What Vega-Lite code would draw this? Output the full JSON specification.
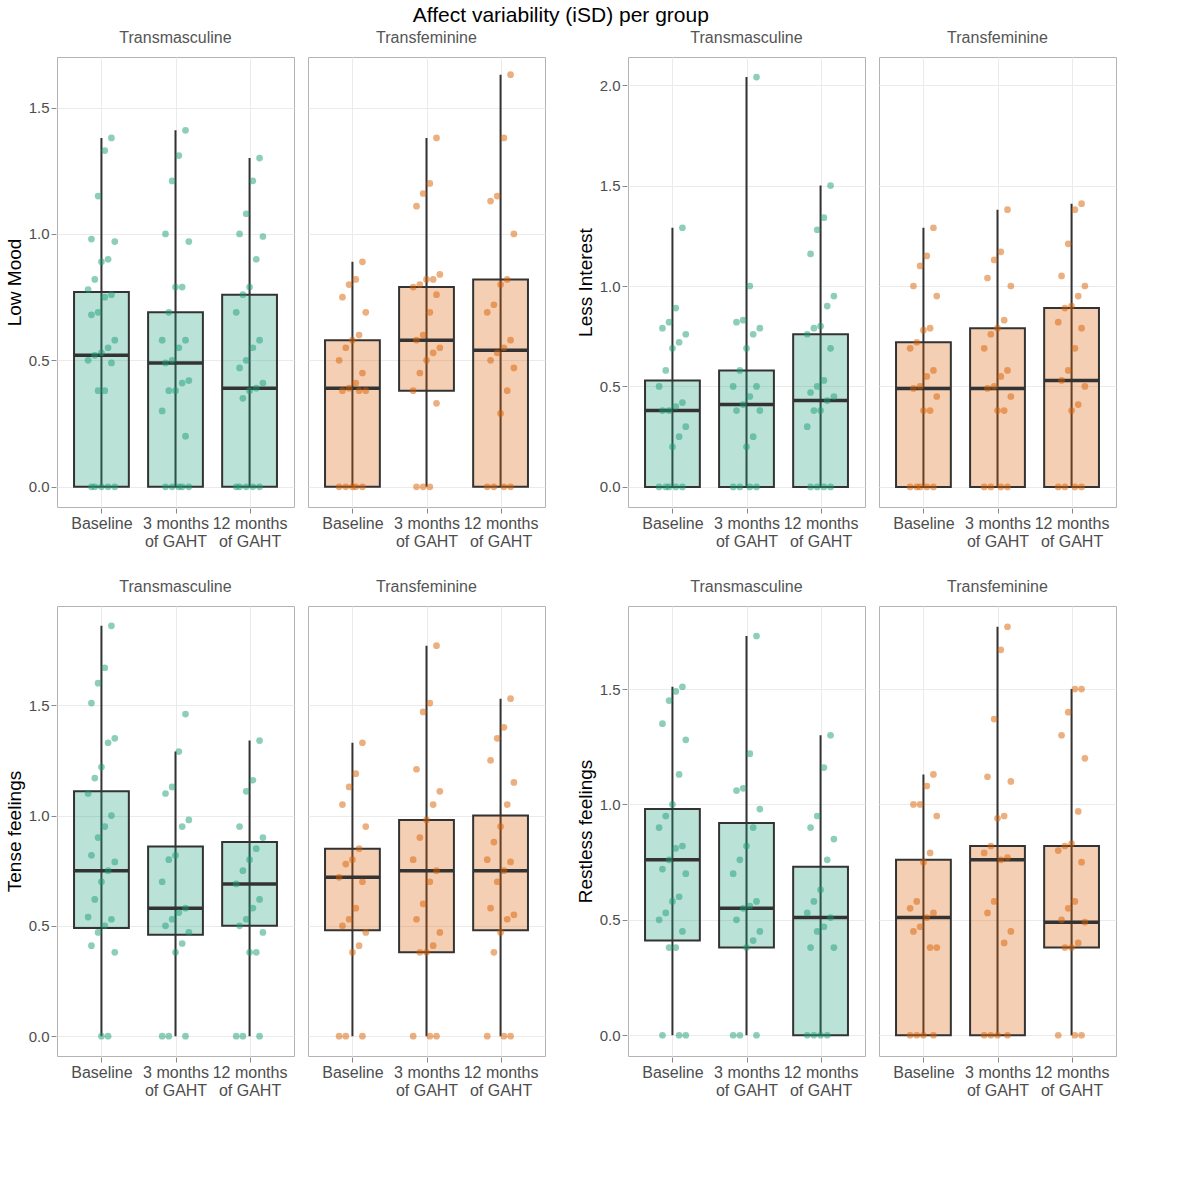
{
  "$schema": "https://vega.github.io/schema/vega-lite/v6.json",
  "title": {"text": "Affect variability (iSD) per group", "fontSize": 21, "fontWeight": "normal", "anchor": "middle", "font": "Liberation Sans"},
  "config": {
    "font": "Liberation Sans",
    "view": {"stroke": "#b3b3b3"},
    "axis": {"gridColor": "#ebebeb", "labelFontSize": 15, "labelColor": "#4d4d4d", "titleFontSize": 19, "titleFontWeight": "normal", "titleColor": "#000", "domain": false, "tickColor": "#888"},
    "header": {"labelFontSize": 16, "labelColor": "#555", "title": null},
    "facet": {"spacing": 12},
    "concat": {"spacing": 30}
  },
  "datasets": {
    "boxes": [
      {"m": "Low Mood", "g": "Transmasculine", "t": "Baseline", "tn": 1, "q1": 0, "med": 0.52, "q3": 0.77, "lo": 0, "hi": 1.38, "vals": [1.38,1.33,1.15,0.98,0.97,0.9,0.89,0.82,0.78,0.76,0.75,0.69,0.68,0.58,0.55,0.53,0.52,0.5,0.49,0.38,0.38,0,0,0,0,0]},
      {"m": "Low Mood", "g": "Transmasculine", "t": "3 months of GAHT", "tn": 2, "q1": 0, "med": 0.49, "q3": 0.69, "lo": 0, "hi": 1.41, "vals": [1.41,1.31,1.21,1.0,0.97,0.79,0.79,0.69,0.58,0.58,0.55,0.5,0.49,0.42,0.41,0.38,0.38,0.3,0.2,0,0,0,0,0]},
      {"m": "Low Mood", "g": "Transmasculine", "t": "12 months of GAHT", "tn": 3, "q1": 0, "med": 0.39, "q3": 0.76, "lo": 0, "hi": 1.3, "vals": [1.3,1.21,1.08,1.0,0.99,0.9,0.79,0.76,0.69,0.58,0.55,0.5,0.47,0.41,0.39,0.38,0.35,0,0,0,0,0]},
      {"m": "Low Mood", "g": "Transfeminine", "t": "Baseline", "tn": 1, "q1": 0, "med": 0.39, "q3": 0.58, "lo": 0, "hi": 0.89, "vals": [0.89,0.82,0.8,0.75,0.69,0.6,0.58,0.55,0.5,0.45,0.41,0.39,0.38,0.38,0.38,0,0,0,0,0]},
      {"m": "Low Mood", "g": "Transfeminine", "t": "3 months of GAHT", "tn": 2, "q1": 0.38, "med": 0.58, "q3": 0.79, "lo": 0, "hi": 1.38, "vals": [1.38,1.2,1.16,1.11,0.84,0.82,0.82,0.8,0.79,0.76,0.69,0.6,0.58,0.55,0.53,0.5,0.45,0.38,0.33,0,0,0]},
      {"m": "Low Mood", "g": "Transfeminine", "t": "12 months of GAHT", "tn": 3, "q1": 0, "med": 0.54, "q3": 0.82, "lo": 0, "hi": 1.63, "vals": [1.63,1.38,1.15,1.13,1.0,0.82,0.8,0.72,0.69,0.58,0.55,0.53,0.5,0.47,0.38,0.29,0,0,0,0]},
      {"m": "Less Interest", "g": "Transmasculine", "t": "Baseline", "tn": 1, "q1": 0, "med": 0.38, "q3": 0.53, "lo": 0, "hi": 1.29, "vals": [1.29,0.89,0.82,0.79,0.76,0.72,0.69,0.58,0.5,0.42,0.4,0.38,0.38,0.3,0.25,0.2,0,0,0,0,0]},
      {"m": "Less Interest", "g": "Transmasculine", "t": "3 months of GAHT", "tn": 2, "q1": 0, "med": 0.41, "q3": 0.58, "lo": 0, "hi": 2.04, "vals": [2.04,1.0,0.83,0.82,0.79,0.76,0.69,0.58,0.5,0.5,0.45,0.41,0.38,0.38,0.25,0.2,0,0,0,0]},
      {"m": "Less Interest", "g": "Transmasculine", "t": "12 months of GAHT", "tn": 3, "q1": 0, "med": 0.43, "q3": 0.76, "lo": 0, "hi": 1.5, "vals": [1.5,1.34,1.28,1.16,0.95,0.9,0.8,0.79,0.76,0.69,0.53,0.5,0.47,0.45,0.43,0.38,0.38,0.3,0,0,0,0]},
      {"m": "Less Interest", "g": "Transfeminine", "t": "Baseline", "tn": 1, "q1": 0, "med": 0.49, "q3": 0.72, "lo": 0, "hi": 1.29, "vals": [1.29,1.15,1.1,1.0,0.95,0.79,0.78,0.72,0.69,0.58,0.55,0.5,0.49,0.45,0.38,0.38,0,0,0,0,0]},
      {"m": "Less Interest", "g": "Transfeminine", "t": "3 months of GAHT", "tn": 2, "q1": 0, "med": 0.49, "q3": 0.79, "lo": 0, "hi": 1.38, "vals": [1.38,1.17,1.13,1.04,1.0,0.83,0.79,0.76,0.69,0.58,0.55,0.5,0.49,0.45,0.38,0.38,0,0,0,0]},
      {"m": "Less Interest", "g": "Transfeminine", "t": "12 months of GAHT", "tn": 3, "q1": 0, "med": 0.53, "q3": 0.89, "lo": 0, "hi": 1.41, "vals": [1.41,1.38,1.21,1.05,1.0,0.95,0.9,0.89,0.82,0.79,0.69,0.58,0.53,0.5,0.41,0.38,0,0,0,0]},
      {"m": "Tense feelings", "g": "Transmasculine", "t": "Baseline", "tn": 1, "q1": 0.49, "med": 0.75, "q3": 1.11, "lo": 0, "hi": 1.86, "vals": [1.86,1.67,1.6,1.51,1.35,1.33,1.22,1.17,1.1,1.0,0.95,0.9,0.82,0.79,0.75,0.7,0.62,0.54,0.53,0.5,0.47,0.41,0.38,0,0]},
      {"m": "Tense feelings", "g": "Transmasculine", "t": "3 months of GAHT", "tn": 2, "q1": 0.46, "med": 0.58, "q3": 0.86, "lo": 0, "hi": 1.29, "vals": [1.46,1.29,1.13,1.1,0.98,0.95,0.82,0.8,0.7,0.58,0.56,0.53,0.5,0.47,0.42,0.38,0,0,0]},
      {"m": "Tense feelings", "g": "Transmasculine", "t": "12 months of GAHT", "tn": 3, "q1": 0.5, "med": 0.69, "q3": 0.88, "lo": 0, "hi": 1.34, "vals": [1.34,1.16,1.11,0.95,0.9,0.85,0.8,0.75,0.69,0.62,0.58,0.53,0.5,0.47,0.38,0.38,0,0,0]},
      {"m": "Tense feelings", "g": "Transfeminine", "t": "Baseline", "tn": 1, "q1": 0.48, "med": 0.72, "q3": 0.85, "lo": 0, "hi": 1.33, "vals": [1.33,1.19,1.13,1.05,0.95,0.85,0.8,0.78,0.72,0.7,0.58,0.53,0.5,0.47,0.41,0.38,0,0,0]},
      {"m": "Tense feelings", "g": "Transfeminine", "t": "3 months of GAHT", "tn": 2, "q1": 0.38, "med": 0.75, "q3": 0.98, "lo": 0, "hi": 1.77, "vals": [1.77,1.51,1.47,1.21,1.11,1.05,0.98,0.9,0.8,0.75,0.7,0.6,0.53,0.47,0.41,0.38,0.38,0,0,0]},
      {"m": "Tense feelings", "g": "Transfeminine", "t": "12 months of GAHT", "tn": 3, "q1": 0.48, "med": 0.75, "q3": 1.0, "lo": 0, "hi": 1.53, "vals": [1.53,1.4,1.35,1.25,1.15,1.05,0.95,0.88,0.8,0.79,0.75,0.7,0.58,0.55,0.53,0.47,0.38,0,0,0]},
      {"m": "Restless feelings", "g": "Transmasculine", "t": "Baseline", "tn": 1, "q1": 0.41, "med": 0.76, "q3": 0.98, "lo": 0, "hi": 1.51, "vals": [1.51,1.49,1.45,1.35,1.28,1.13,1.0,0.95,0.9,0.82,0.81,0.76,0.72,0.7,0.6,0.58,0.53,0.5,0.45,0.38,0.38,0,0,0]},
      {"m": "Restless feelings", "g": "Transmasculine", "t": "3 months of GAHT", "tn": 2, "q1": 0.38, "med": 0.55, "q3": 0.92, "lo": 0, "hi": 1.73, "vals": [1.73,1.22,1.07,1.06,0.98,0.9,0.82,0.76,0.7,0.58,0.56,0.55,0.5,0.45,0.41,0.38,0,0,0]},
      {"m": "Restless feelings", "g": "Transmasculine", "t": "12 months of GAHT", "tn": 3, "q1": 0, "med": 0.51, "q3": 0.73, "lo": 0, "hi": 1.3, "vals": [1.3,1.16,0.95,0.9,0.85,0.76,0.63,0.58,0.53,0.51,0.47,0.45,0.38,0.38,0,0,0,0]},
      {"m": "Restless feelings", "g": "Transfeminine", "t": "Baseline", "tn": 1, "q1": 0, "med": 0.51, "q3": 0.76, "lo": 0, "hi": 1.13, "vals": [1.13,1.08,1.0,1.0,0.95,0.79,0.75,0.58,0.55,0.53,0.51,0.47,0.45,0.38,0.38,0,0,0,0]},
      {"m": "Restless feelings", "g": "Transfeminine", "t": "3 months of GAHT", "tn": 2, "q1": 0, "med": 0.76, "q3": 0.82, "lo": 0, "hi": 1.77, "vals": [1.77,1.67,1.37,1.12,1.1,0.95,0.94,0.82,0.79,0.77,0.76,0.58,0.53,0.45,0.4,0,0,0,0]},
      {"m": "Restless feelings", "g": "Transfeminine", "t": "12 months of GAHT", "tn": 3, "q1": 0.38, "med": 0.49, "q3": 0.82, "lo": 0, "hi": 1.5, "vals": [1.5,1.5,1.4,1.3,1.2,0.97,0.83,0.82,0.8,0.75,0.58,0.55,0.5,0.49,0.4,0.38,0.38,0,0,0]}
    ]
  },
  "columns": 2,
  "concat": [
    {
      "data": {"name": "boxes"},
      "transform": [{"filter": "datum.m == 'Low Mood'"}, {"calculate": "datum.tn - 0.37", "as": "xa"}, {"calculate": "datum.tn + 0.37", "as": "xb"}],
      "facet": {"column": {"field": "g", "sort": ["Transmasculine", "Transfeminine"]}},
      "spec": {
        "width": 237, "height": 450,
        "layer": [
          {"mark": {"type": "rule", "color": "#333", "strokeWidth": 2},
           "encoding": {"x": {"field": "tn", "type": "quantitative", "title": null, "scale": {"domain": [0.4, 3.6], "nice": false, "zero": false}, "axis": {"values": [1, 2, 3], "labelExpr": "datum.value == 1 ? 'Baseline' : datum.value == 2 ? ['3 months', 'of GAHT'] : ['12 months', 'of GAHT']", "labelFontSize": 16, "ticks": true}},
             "y": {"field": "lo", "type": "quantitative", "title": "Low Mood", "scale": {"domain": [-0.08, 1.7], "nice": false}, "axis": {"values": [0, 0.5, 1, 1.5], "format": ".1f"}}, "y2": {"field": "hi"}}},
          {"mark": {"type": "rect", "fillOpacity": 0.3, "stroke": "#333", "strokeWidth": 2},
           "encoding": {"x": {"field": "xa", "type": "quantitative"}, "x2": {"field": "xb"}, "y": {"field": "q1", "type": "quantitative"}, "y2": {"field": "q3"},
             "fill": {"field": "g", "type": "nominal", "scale": {"domain": ["Transmasculine", "Transfeminine"], "range": ["#1b9e77", "#d95f02"]}, "legend": null}}},
          {"mark": {"type": "rule", "color": "#333", "strokeWidth": 3.5},
           "encoding": {"x": {"field": "xa", "type": "quantitative"}, "x2": {"field": "xb"}, "y": {"field": "med", "type": "quantitative"}}},
          {"transform": [{"flatten": ["vals"], "as": ["v"]}, {"window": [{"op": "row_number", "as": "i"}], "groupby": ["g", "t"]}, {"calculate": "datum.tn + ((datum.i * 7) % 9 - 4) * 0.045", "as": "xj"}],
           "mark": {"type": "circle", "size": 45, "opacity": 0.5},
           "encoding": {"x": {"field": "xj", "type": "quantitative"}, "y": {"field": "v", "type": "quantitative"},
             "color": {"field": "g", "type": "nominal", "scale": {"domain": ["Transmasculine", "Transfeminine"], "range": ["#1b9e77", "#d95f02"]}, "legend": null}}}
        ]
      }
    },
    {
      "data": {"name": "boxes"},
      "transform": [{"filter": "datum.m == 'Less Interest'"}, {"calculate": "datum.tn - 0.37", "as": "xa"}, {"calculate": "datum.tn + 0.37", "as": "xb"}],
      "facet": {"column": {"field": "g", "sort": ["Transmasculine", "Transfeminine"]}},
      "spec": {
        "width": 237, "height": 450,
        "layer": [
          {"mark": {"type": "rule", "color": "#333", "strokeWidth": 2},
           "encoding": {"x": {"field": "tn", "type": "quantitative", "title": null, "scale": {"domain": [0.4, 3.6], "nice": false, "zero": false}, "axis": {"values": [1, 2, 3], "labelExpr": "datum.value == 1 ? 'Baseline' : datum.value == 2 ? ['3 months', 'of GAHT'] : ['12 months', 'of GAHT']", "labelFontSize": 16}},
             "y": {"field": "lo", "type": "quantitative", "title": "Less Interest", "scale": {"domain": [-0.1, 2.14], "nice": false}, "axis": {"values": [0, 0.5, 1, 1.5, 2], "format": ".1f"}}, "y2": {"field": "hi"}}},
          {"mark": {"type": "rect", "fillOpacity": 0.3, "stroke": "#333", "strokeWidth": 2},
           "encoding": {"x": {"field": "xa", "type": "quantitative"}, "x2": {"field": "xb"}, "y": {"field": "q1", "type": "quantitative"}, "y2": {"field": "q3"},
             "fill": {"field": "g", "type": "nominal", "scale": {"domain": ["Transmasculine", "Transfeminine"], "range": ["#1b9e77", "#d95f02"]}, "legend": null}}},
          {"mark": {"type": "rule", "color": "#333", "strokeWidth": 3.5},
           "encoding": {"x": {"field": "xa", "type": "quantitative"}, "x2": {"field": "xb"}, "y": {"field": "med", "type": "quantitative"}}},
          {"transform": [{"flatten": ["vals"], "as": ["v"]}, {"window": [{"op": "row_number", "as": "i"}], "groupby": ["g", "t"]}, {"calculate": "datum.tn + ((datum.i * 7) % 9 - 4) * 0.045", "as": "xj"}],
           "mark": {"type": "circle", "size": 45, "opacity": 0.5},
           "encoding": {"x": {"field": "xj", "type": "quantitative"}, "y": {"field": "v", "type": "quantitative"},
             "color": {"field": "g", "type": "nominal", "scale": {"domain": ["Transmasculine", "Transfeminine"], "range": ["#1b9e77", "#d95f02"]}, "legend": null}}}
        ]
      }
    },
    {
      "data": {"name": "boxes"},
      "transform": [{"filter": "datum.m == 'Tense feelings'"}, {"calculate": "datum.tn - 0.37", "as": "xa"}, {"calculate": "datum.tn + 0.37", "as": "xb"}],
      "facet": {"column": {"field": "g", "sort": ["Transmasculine", "Transfeminine"]}},
      "spec": {
        "width": 237, "height": 450,
        "layer": [
          {"mark": {"type": "rule", "color": "#333", "strokeWidth": 2},
           "encoding": {"x": {"field": "tn", "type": "quantitative", "title": null, "scale": {"domain": [0.4, 3.6], "nice": false, "zero": false}, "axis": {"values": [1, 2, 3], "labelExpr": "datum.value == 1 ? 'Baseline' : datum.value == 2 ? ['3 months', 'of GAHT'] : ['12 months', 'of GAHT']", "labelFontSize": 16}},
             "y": {"field": "lo", "type": "quantitative", "title": "Tense feelings", "scale": {"domain": [-0.09, 1.95], "nice": false}, "axis": {"values": [0, 0.5, 1, 1.5], "format": ".1f"}}, "y2": {"field": "hi"}}},
          {"mark": {"type": "rect", "fillOpacity": 0.3, "stroke": "#333", "strokeWidth": 2},
           "encoding": {"x": {"field": "xa", "type": "quantitative"}, "x2": {"field": "xb"}, "y": {"field": "q1", "type": "quantitative"}, "y2": {"field": "q3"},
             "fill": {"field": "g", "type": "nominal", "scale": {"domain": ["Transmasculine", "Transfeminine"], "range": ["#1b9e77", "#d95f02"]}, "legend": null}}},
          {"mark": {"type": "rule", "color": "#333", "strokeWidth": 3.5},
           "encoding": {"x": {"field": "xa", "type": "quantitative"}, "x2": {"field": "xb"}, "y": {"field": "med", "type": "quantitative"}}},
          {"transform": [{"flatten": ["vals"], "as": ["v"]}, {"window": [{"op": "row_number", "as": "i"}], "groupby": ["g", "t"]}, {"calculate": "datum.tn + ((datum.i * 7) % 9 - 4) * 0.045", "as": "xj"}],
           "mark": {"type": "circle", "size": 45, "opacity": 0.5},
           "encoding": {"x": {"field": "xj", "type": "quantitative"}, "y": {"field": "v", "type": "quantitative"},
             "color": {"field": "g", "type": "nominal", "scale": {"domain": ["Transmasculine", "Transfeminine"], "range": ["#1b9e77", "#d95f02"]}, "legend": null}}}
        ]
      }
    },
    {
      "data": {"name": "boxes"},
      "transform": [{"filter": "datum.m == 'Restless feelings'"}, {"calculate": "datum.tn - 0.37", "as": "xa"}, {"calculate": "datum.tn + 0.37", "as": "xb"}],
      "facet": {"column": {"field": "g", "sort": ["Transmasculine", "Transfeminine"]}},
      "spec": {
        "width": 237, "height": 450,
        "layer": [
          {"mark": {"type": "rule", "color": "#333", "strokeWidth": 2},
           "encoding": {"x": {"field": "tn", "type": "quantitative", "title": null, "scale": {"domain": [0.4, 3.6], "nice": false, "zero": false}, "axis": {"values": [1, 2, 3], "labelExpr": "datum.value == 1 ? 'Baseline' : datum.value == 2 ? ['3 months', 'of GAHT'] : ['12 months', 'of GAHT']", "labelFontSize": 16}},
             "y": {"field": "lo", "type": "quantitative", "title": "Restless feelings", "scale": {"domain": [-0.09, 1.86], "nice": false}, "axis": {"values": [0, 0.5, 1, 1.5], "format": ".1f"}}, "y2": {"field": "hi"}}},
          {"mark": {"type": "rect", "fillOpacity": 0.3, "stroke": "#333", "strokeWidth": 2},
           "encoding": {"x": {"field": "xa", "type": "quantitative"}, "x2": {"field": "xb"}, "y": {"field": "q1", "type": "quantitative"}, "y2": {"field": "q3"},
             "fill": {"field": "g", "type": "nominal", "scale": {"domain": ["Transmasculine", "Transfeminine"], "range": ["#1b9e77", "#d95f02"]}, "legend": null}}},
          {"mark": {"type": "rule", "color": "#333", "strokeWidth": 3.5},
           "encoding": {"x": {"field": "xa", "type": "quantitative"}, "x2": {"field": "xb"}, "y": {"field": "med", "type": "quantitative"}}},
          {"transform": [{"flatten": ["vals"], "as": ["v"]}, {"window": [{"op": "row_number", "as": "i"}], "groupby": ["g", "t"]}, {"calculate": "datum.tn + ((datum.i * 7) % 9 - 4) * 0.045", "as": "xj"}],
           "mark": {"type": "circle", "size": 45, "opacity": 0.5},
           "encoding": {"x": {"field": "xj", "type": "quantitative"}, "y": {"field": "v", "type": "quantitative"},
             "color": {"field": "g", "type": "nominal", "scale": {"domain": ["Transmasculine", "Transfeminine"], "range": ["#1b9e77", "#d95f02"]}, "legend": null}}}
        ]
      }
    }
  ]
}
